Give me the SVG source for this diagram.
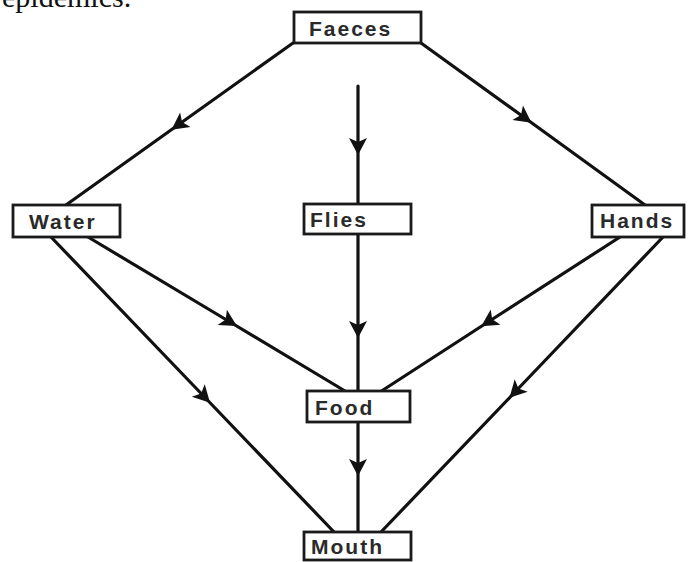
<svg xmlns="http://www.w3.org/2000/svg" width="688" height="562" viewBox="0 0 688 562">
<style>
.conn{fill:none;stroke:#111;stroke-width:3.2;stroke-linecap:round;marker-mid:url(#arr)}
.box{fill:#fff;stroke:#1a1a1a;stroke-width:2.8}
.lbl{font-family:"Liberation Sans",Arial,sans-serif;font-size:21px;font-weight:bold;letter-spacing:2px;fill:#2a2a2a}
.cap{font-family:"Liberation Serif","Times New Roman",serif;font-size:30px;fill:#111}
</style>
<defs>
<marker id="arr" markerUnits="userSpaceOnUse" viewBox="-12 -12 24 24" markerWidth="24" markerHeight="24" refX="0" refY="0" orient="auto">
<path d="M8,0 L-9,-9 L-5,0 L-9,9 Z" fill="#111"/>
</marker>
</defs>
<rect width="688" height="562" fill="#fff"/>
<text class="cap" x="2" y="7">epidemics.</text>
<g id="connectors">
<path class="conn" d="M293,43 L178,125 L66,205"/>
<path class="conn" d="M421,43 L525,118 L645,205"/>
<path class="conn" d="M358,86 L358,147 L358,204"/>
<path class="conn" d="M358,235 L358,330 L358,390"/>
<path class="conn" d="M358,422 L358,468 L358,532"/>
<path class="conn" d="M88,237 L230,322 L345,391"/>
<path class="conn" d="M51,237 L204.5,397 L334,532"/>
<path class="conn" d="M620,237 L488,322 L380,392"/>
<path class="conn" d="M663,237 L515,392 L381,532"/>
</g>
<g id="faeces"><rect class="box" x="294" y="12" width="127" height="31"/><text class="lbl" x="309" y="36">Faeces</text></g>
<g id="water"><rect class="box" x="13" y="205" width="107" height="32"/><text class="lbl" x="29" y="229">Water</text></g>
<g id="flies"><rect class="box" x="304" y="204" width="107" height="30"/><text class="lbl" x="310" y="227">Flies</text></g>
<g id="hands"><rect class="box" x="592" y="205" width="92" height="32"/><text class="lbl" x="600" y="228">Hands</text></g>
<g id="food"><rect class="box" x="307" y="391" width="103" height="31"/><text class="lbl" x="315" y="415">Food</text></g>
<g id="mouth"><rect class="box" x="304" y="532" width="107" height="28"/><text class="lbl" x="311" y="554">Mouth</text></g>
</svg>
